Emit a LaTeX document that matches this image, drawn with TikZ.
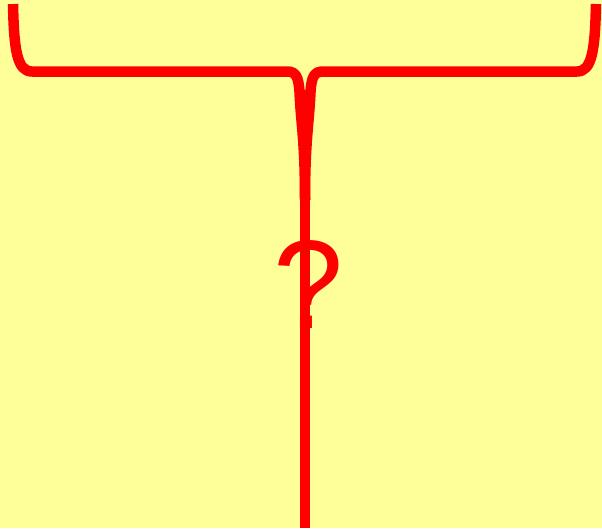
\documentclass[tikz,border=0pt]{standalone}
\usepackage{fontspec}
\setmainfont{Liberation Sans}
\definecolor{bgyellow}{RGB}{255,255,153}
\definecolor{bracered}{RGB}{255,0,0}
\tikzset{
  bracestroke/.style={draw=bracered, line width=10.5pt, line cap=butt, line join=round},
  stemline/.style={draw=bracered, line width=10.5pt},
  qmark/.style={text=bracered, font=\fontsize{126}{126}\selectfont, inner sep=0pt}
}
\begin{document}
\begin{tikzpicture}[x=1pt,y=-1pt]
  \fill[bgyellow] (0,0) rectangle (602,528);
  \useasboundingbox (0,0) rectangle (602,528);
  \coordinate (top) at (305,90);
  \coordinate (bottom) at (305,528);
  \draw[stemline] (top) -- (bottom);
  \draw[bracestroke] (13,4) .. controls (14,50) and (17,71.5) .. (32,71.5) -- (287,71.5)
     .. controls (296,71.5) and (298.5,77) .. (299.5,92) .. controls (301,125) and (305,140) .. (305,200);
  \draw[bracestroke] (596,4) .. controls (595,50) and (592,71.5) .. (577,71.5) -- (323,71.5)
     .. controls (314,71.5) and (311.5,77) .. (310.5,92) .. controls (309,125) and (305,140) .. (305,200);
  \node[qmark] (q) at (309,285) {?};
\end{tikzpicture}
\end{document}
